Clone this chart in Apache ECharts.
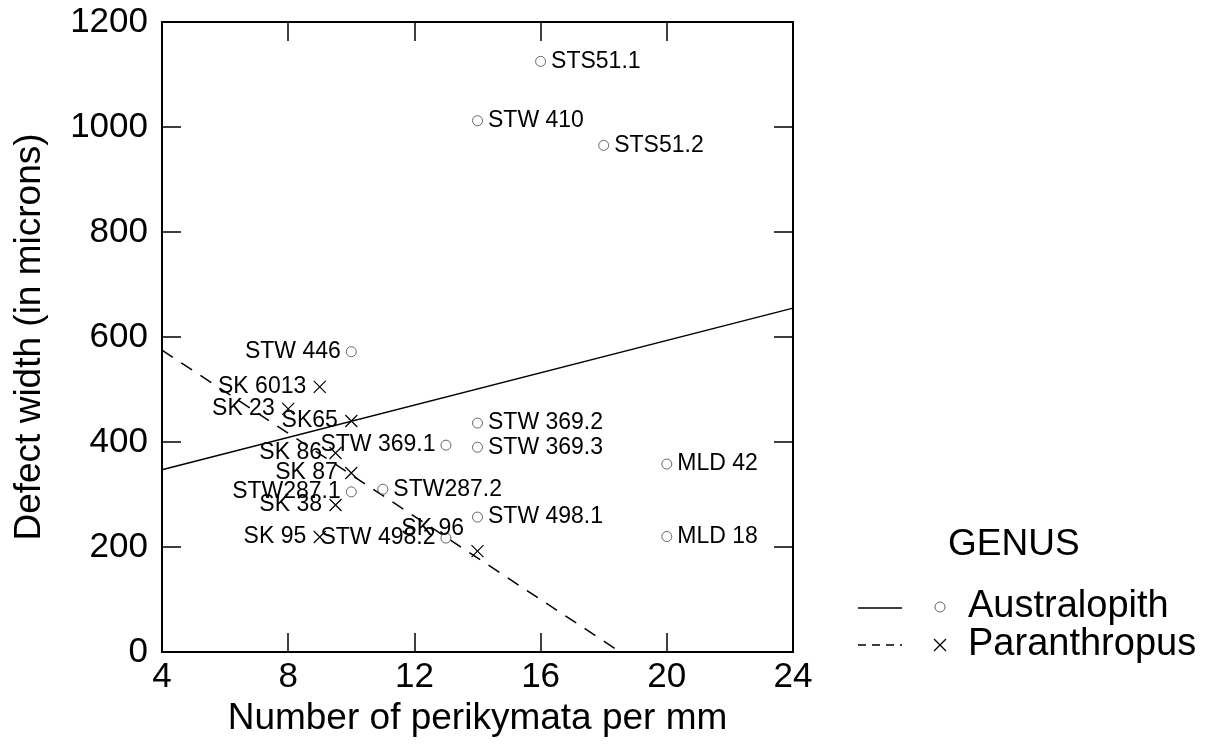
<!DOCTYPE html>
<html>
<head>
<meta charset="utf-8">
<script src="https://cdn.jsdelivr.net/npm/echarts@6/dist/echarts.min.js"></script>
<style>
html,body{margin:0;padding:0;background:#fff;}
#chart{width:1216px;height:753px;}
</style>
</head>
<body>
<div id="chart"></div>
<script>
// ---- data ----
const australopithNames = ['STS51.1','STW 410','STS51.2','STW 446','STW 369.2','STW 369.3','STW 369.1','STW287.1','STW287.2','STW 498.1','STW 498.2','MLD 42','MLD 18'];
const australopithX = [16,14,18,10,14,14,13,10,11,14,13,20,20];
const australopithY = [1125,1012,965,572,436,390,394,305,310,257,217,358,220];

const paranthropusNames = ['SK 6013','SK 23','SK65','SK 86','SK 87','SK 38','SK 95','SK 96'];
const paranthropusX = [9,8,10,9.5,10,9.5,9,14];
const paranthropusY = [505,463,440,379,341,280,219,192];

const australopithFitX = [4,24];
const australopithFitY = [347,655];
const paranthropusFitX = [4,18.4];
const paranthropusFitY = [575,5];

const xTicks = [4,8,12,16,20,24];
const yTicks = [0,200,400,600,800,1000,1200];
const genusNames = ['Australopith','Paranthropus'];
const legendTitle = 'GENUS';
const xTitle = 'Number of perikymata per mm';
const yTitle = 'Defect width (in microns)';

// ---- styles ----
const FONT = "'Liberation Sans', Arial, sans-serif";
const leftLabelled = ['STW 446','STW 369.1','STW287.1','STW 498.2'];
const raisedLabels = {'SK 96':[0,-23]};
const CROSS = 'path://M0,0L10,10M10,0L0,10';

const circleData = australopithX.map((x,i)=>{
  const name = australopithNames[i];
  const left = leftLabelled.indexOf(name) >= 0;
  return {value:[x, australopithY[i]], name:name,
    label:{position: left ? 'left' : 'right'}};
});
const crossData = paranthropusX.map((x,i)=>{
  const name = paranthropusNames[i];
  const d = {value:[x, paranthropusY[i]], name:name, label:{position:'left'}};
  if (raisedLabels[name]) d.label.offset = raisedLabels[name];
  return d;
});

function axisBase(){
  return {
    type:'value',
    axisLine:{show:true, onZero:false, lineStyle:{color:'#000', width:2}},
    axisTick:{show:true, inside:true, length:19, lineStyle:{color:'#000', width:1.5}},
    splitLine:{show:false}
  };
}
const plain = v => String(v);

const chart = echarts.init(document.getElementById('chart'), null, {renderer:'canvas'});
const option = {
  animation:false,
  backgroundColor:'#fff',
  grid:{left:162, right:423, top:22, bottom:101},
  xAxis:[
    Object.assign(axisBase(), {position:'bottom', min:xTicks[0], max:xTicks[xTicks.length-1], interval:4,
      axisLabel:{show:true, color:'#000', fontSize:35, fontFamily:FONT, margin:8, formatter:plain},
      name:xTitle, nameLocation:'middle', nameGap:44,
      nameTextStyle:{color:'#000', fontSize:37, fontFamily:FONT}}),
    Object.assign(axisBase(), {position:'top', min:xTicks[0], max:xTicks[xTicks.length-1], interval:4,
      axisLabel:{show:false}})
  ],
  yAxis:[
    Object.assign(axisBase(), {position:'left', min:yTicks[0], max:yTicks[yTicks.length-1], interval:200,
      axisLabel:{show:true, color:'#000', fontSize:35, fontFamily:FONT, margin:14, formatter:plain},
      name:yTitle, nameLocation:'middle', nameGap:114, nameRotate:90,
      nameTextStyle:{color:'#000', fontSize:37, fontFamily:FONT}}),
    Object.assign(axisBase(), {position:'right', min:yTicks[0], max:yTicks[yTicks.length-1], interval:200,
      axisLabel:{show:false}})
  ],
  series:[
    {
      name:genusNames[0]+' fit', type:'line', xAxisIndex:0, yAxisIndex:0,
      data: australopithFitX.map((x,i)=>[x, australopithFitY[i]]),
      symbol:'none', lineStyle:{color:'#000', width:1.5, type:'solid'}, silent:true, z:2
    },
    {
      name:genusNames[1]+' fit', type:'line', xAxisIndex:0, yAxisIndex:0,
      data: paranthropusFitX.map((x,i)=>[x, paranthropusFitY[i]]),
      symbol:'none', lineStyle:{color:'#000', width:1.5, type:[13,10]}, silent:true, z:2
    },
    {
      name:genusNames[0], type:'scatter', xAxisIndex:0, yAxisIndex:0,
      data: circleData, symbol:'circle', symbolSize:10,
      itemStyle:{color:'rgba(0,0,0,0)', borderColor:'#666', borderWidth:1, opacity:1},
      label:{show:true, formatter:'{b}', color:'#000', fontSize:23, fontFamily:FONT, distance:5},
      z:3
    },
    {
      name:genusNames[1], type:'scatter', xAxisIndex:0, yAxisIndex:0,
      data: crossData, symbol:CROSS, symbolSize:12,
      itemStyle:{color:'none', borderColor:'#000', borderWidth:1.2, opacity:1},
      label:{show:true, formatter:'{b}', color:'#000', fontSize:23, fontFamily:FONT, distance:5},
      z:3
    }
  ],
  graphic:[
    {type:'text', x:948, y:545, style:{text:legendTitle, fill:'#000', font:'37px '+FONT, textVerticalAlign:'middle', verticalAlign:'middle'}},
    {type:'line', shape:{x1:858,y1:608,x2:902,y2:608}, style:{stroke:'#000', lineWidth:1.5}},
    {type:'circle', shape:{cx:940, cy:607, r:5}, style:{fill:'none', stroke:'#666', lineWidth:1}},
    {type:'text', x:968, y:607, style:{text:genusNames[0], fill:'#000', font:'38px '+FONT, textVerticalAlign:'middle', verticalAlign:'middle'}},
    {type:'line', shape:{x1:858,y1:645,x2:902,y2:645}, style:{stroke:'#000', lineWidth:1.5, lineDash:[8,6]}},
    {type:'line', shape:{x1:934,y1:639,x2:946,y2:651}, style:{stroke:'#000', lineWidth:1.2}},
    {type:'line', shape:{x1:946,y1:639,x2:934,y2:651}, style:{stroke:'#000', lineWidth:1.2}},
    {type:'text', x:968, y:645, style:{text:genusNames[1], fill:'#000', font:'38px '+FONT, textVerticalAlign:'middle', verticalAlign:'middle'}}
  ]
};
chart.setOption(option);
</script>
</body>
</html>
